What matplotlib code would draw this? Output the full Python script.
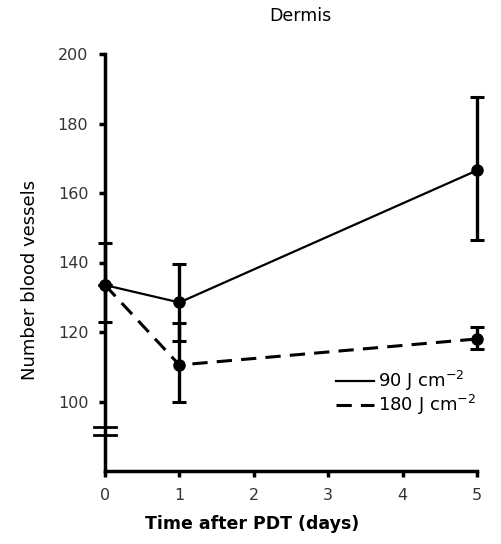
import matplotlib.pyplot as plt
from matplotlib.lines import Line2D
import numpy as np

# data
days = [0, 1, 5]
mean_90 = [133.5, 128.5, 166.5]
low_90 = [123, 117.5, 146.5]
high_90 = [145.5, 139.5, 187.5]
mean_180 = [133.5, 110.5, 118]
low_180 = [133.5, 100, 115]
high_180 = [133.5, 122.5, 121.5]
xticks = [0, 1, 2, 3, 4, 5]
yticks = [100, 120, 140, 160, 180, 200]
labels = ['90 J cm$^{-2}$', '180 J cm$^{-2}$']

plt.rcParams['font.family'] = ['DejaVu Sans']

fig = plt.figure(figsize=(5.02, 5.44), dpi=100)
ax = fig.add_axes([105 / 502, 1 - 471 / 544, 372 / 502, 417 / 544])

m90 = np.array(mean_90)
m180 = np.array(mean_180)
err90 = [m90 - np.array(low_90), np.array(high_90) - m90]
err180 = [m180 - np.array(low_180), np.array(high_180) - m180]

dash = (0, (5, 3))
ax.errorbar(days, mean_90, yerr=err90, color='black', lw=1.6, marker='o',
            ms=8, elinewidth=2.4, capsize=5, capthick=2.2, clip_on=False,
            zorder=3)
ax.errorbar(days, mean_180, yerr=err180, color='black', lw=2.2, ls=dash,
            marker='o', ms=8, elinewidth=2.4, capsize=5, capthick=2.2,
            clip_on=False, zorder=3)

# axis break marks
for yb in (90.3, 92.8):
    ax.plot([-0.15, 0.15], [yb, yb], color='black', lw=2, clip_on=False)

ax.set_xlim(0, 5)
ax.set_ylim(80, 200)
ax.set_xticks(xticks)
ax.set_yticks(yticks)
ax.tick_params(direction='out', length=4, width=2.5, labelsize=11.5,
               labelcolor='#333333', pad=8)
for s in ('top', 'right'):
    ax.spines[s].set_visible(False)
for s in ('left', 'bottom'):
    ax.spines[s].set_linewidth(2.5)

handles = [Line2D([], [], color='black', lw=1.6),
           Line2D([], [], color='black', lw=2.2, ls=dash)]
ax.legend(handles, labels, loc='upper left', bbox_to_anchor=(0.62, 0.245),
          frameon=False, fontsize=13, handlelength=2.1, handletextpad=0.25,
          labelspacing=0.0, borderaxespad=0, borderpad=0)

fig.text(300 / 502, 1 - 16 / 544, 'Dermis', ha='center', va='center',
         fontsize=12.5)
fig.text(30 / 502, 1 - 280 / 544, 'Number blood vessels', ha='center',
         va='center', rotation=90, fontsize=13)
fig.text(252 / 502, 1 - 524 / 544, 'Time after PDT (days)', ha='center',
         va='center', fontsize=12.5, fontweight='bold')

fig.savefig('out.png', dpi=100)
